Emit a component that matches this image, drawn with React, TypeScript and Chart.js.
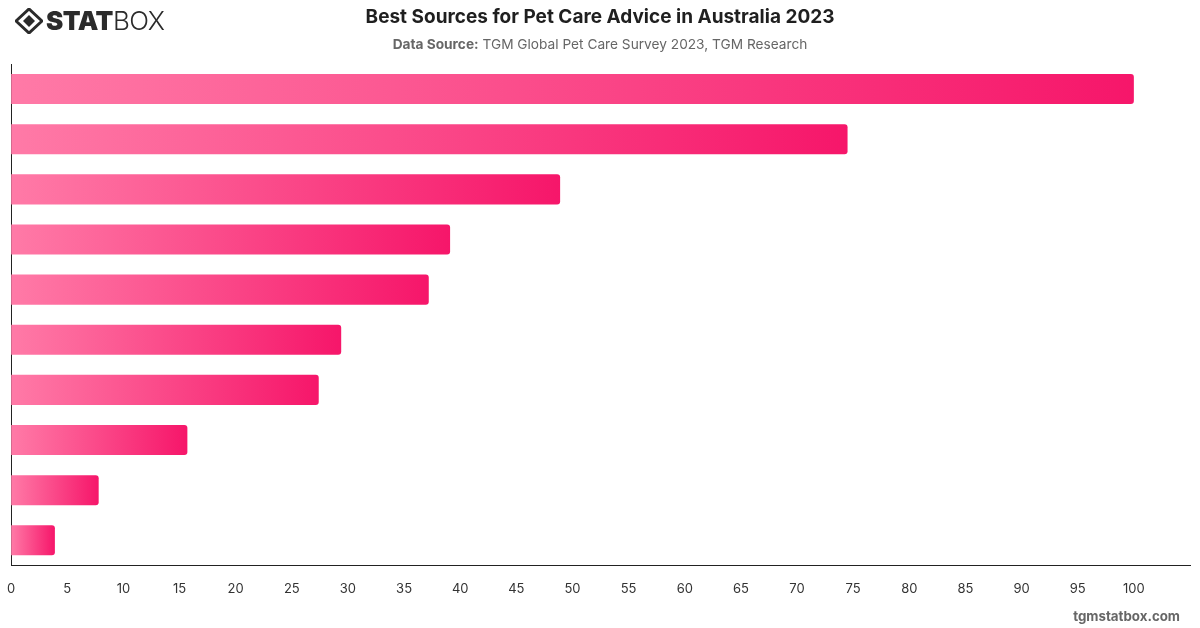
import React, { useEffect, useRef } from "react";
import { Chart, registerables } from "chart.js";

Chart.register(...registerables);

// Share of respondents naming each source (%)
const sources = [
  "Veterinarian",
  "Internet search",
  "Family and friends",
  "Pet store staff",
  "Breeder",
  "Social media",
  "Pet care websites",
  "Books and magazines",
  "TV programmes",
  "Other",
];
const shares = [100, 74.5, 48.9, 39.1, 37.2, 29.4, 27.4, 15.7, 7.8, 3.9];
const xTicks = [0, 5, 10, 15, 20, 25, 30, 35, 40, 45, 50, 55, 60, 65, 70, 75, 80, 85, 90, 95, 100];

const FONT = "Inter, 'Noto Sans', 'DejaVu Sans', sans-serif";
// the canvas reaches a little past the left page edge so the plot starts at x = 10
const CANVAS_SHIFT = 9;

function Logo() {
  return (
    <div style={{ position: "absolute", left: 15, top: 7, display: "flex", alignItems: "center", height: 28 }}>
      <svg width="28" height="26" viewBox="0 0 28 26">
        <path d="M14 1 L27 13 L14 25 L1 13 Z" fill="none" stroke="#2b2b2b" strokeWidth="3" />
        <path d="M14 7 L20 13 L14 19 L8 13 Z" fill="#2b2b2b" />
      </svg>
      <span style={{ fontFamily: FONT, fontSize: 26, fontWeight: 900, color: "#2b2b2b", marginLeft: 3, letterSpacing: -0.5, lineHeight: "28px" }}>
        STAT
      </span>
      <span style={{ fontFamily: FONT, fontSize: 26, fontWeight: 300, color: "#2b2b2b", letterSpacing: -0.5, lineHeight: "28px" }}>
        BOX
      </span>
    </div>
  );
}

export default function App() {
  const canvasRef = useRef<HTMLCanvasElement | null>(null);

  useEffect(() => {
    document.body.style.margin = "0";
    const canvas = canvasRef.current;
    if (!canvas) return;

    const chart = new Chart(canvas, {
      type: "bar",
      data: {
        labels: sources,
        datasets: [
          {
            data: shares,
            borderRadius: { topRight: 3, bottomRight: 3, topLeft: 0, bottomLeft: 0 },
            borderSkipped: false,
            categoryPercentage: 0.8,
            barPercentage: 0.75,
            backgroundColor: (ctx: any) => {
              const el = ctx.element as any;
              const c = ctx.chart.ctx;
              if (!el || el.x === undefined || el.base === undefined || !isFinite(el.x)) return "#fb4f8a";
              const g = c.createLinearGradient(el.base, 0, el.x, 0);
              g.addColorStop(0, "#ff7aa7");
              g.addColorStop(1, "#f6166a");
              return g;
            },
          },
        ],
      },
      options: {
        indexAxis: "y",
        responsive: false,
        animation: false,
        layout: { padding: { left: 1, right: 10, top: 64, bottom: 15 } },
        plugins: {
          legend: { display: false },
          title: { display: false },
          tooltip: { enabled: true },
        },
        scales: {
          x: {
            min: 0,
            max: 105,
            afterBuildTicks: (axis: any) => {
              axis.ticks = xTicks.map((v) => ({ value: v }));
            },
            grid: { display: false, drawTicks: false },
            border: { display: true, color: "#222", width: 1 },
            ticks: {
              padding: 16,
              color: "#333",
              font: { family: FONT, size: 13 },
            },
          },
          y: {
            grid: { display: false, drawTicks: false },
            border: { display: true, color: "#222", width: 1 },
            ticks: { display: false },
          },
        },
      },
    });
    // re-render so the gradients use the laid-out bar geometry
    chart.update("none");

    return () => chart.destroy();
  }, []);

  return (
    <div style={{ position: "relative", width: 1200, height: 628, background: "#fff", overflow: "hidden" }}>
      <canvas
        ref={canvasRef}
        width={1200 + CANVAS_SHIFT}
        height={628}
        style={{ position: "absolute", left: -CANVAS_SHIFT, top: 0 }}
      />
      <Logo />
      <div
        style={{
          position: "absolute",
          left: 0,
          width: 1200,
          top: 5,
          textAlign: "center",
          fontFamily: FONT,
          fontSize: 19,
          fontWeight: 700,
          color: "#1f1f1f",
          lineHeight: "24px",
        }}
      >
        Best Sources for Pet Care Advice in Australia 2023
      </div>
      <div
        style={{
          position: "absolute",
          left: 0,
          width: 1200,
          top: 35,
          textAlign: "center",
          fontFamily: FONT,
          fontSize: 13.7,
          color: "#666",
          lineHeight: "18px",
        }}
      >
        <span style={{ fontWeight: 700 }}>Data Source:</span> TGM Global Pet Care Survey 2023, TGM Research
      </div>
      <div
        style={{
          position: "absolute",
          right: 20,
          top: 607,
          fontFamily: FONT,
          fontSize: 13.3,
          fontWeight: 700,
          color: "#666",
          lineHeight: "18px",
        }}
      >
        tgmstatbox.com
      </div>
    </div>
  );
}
